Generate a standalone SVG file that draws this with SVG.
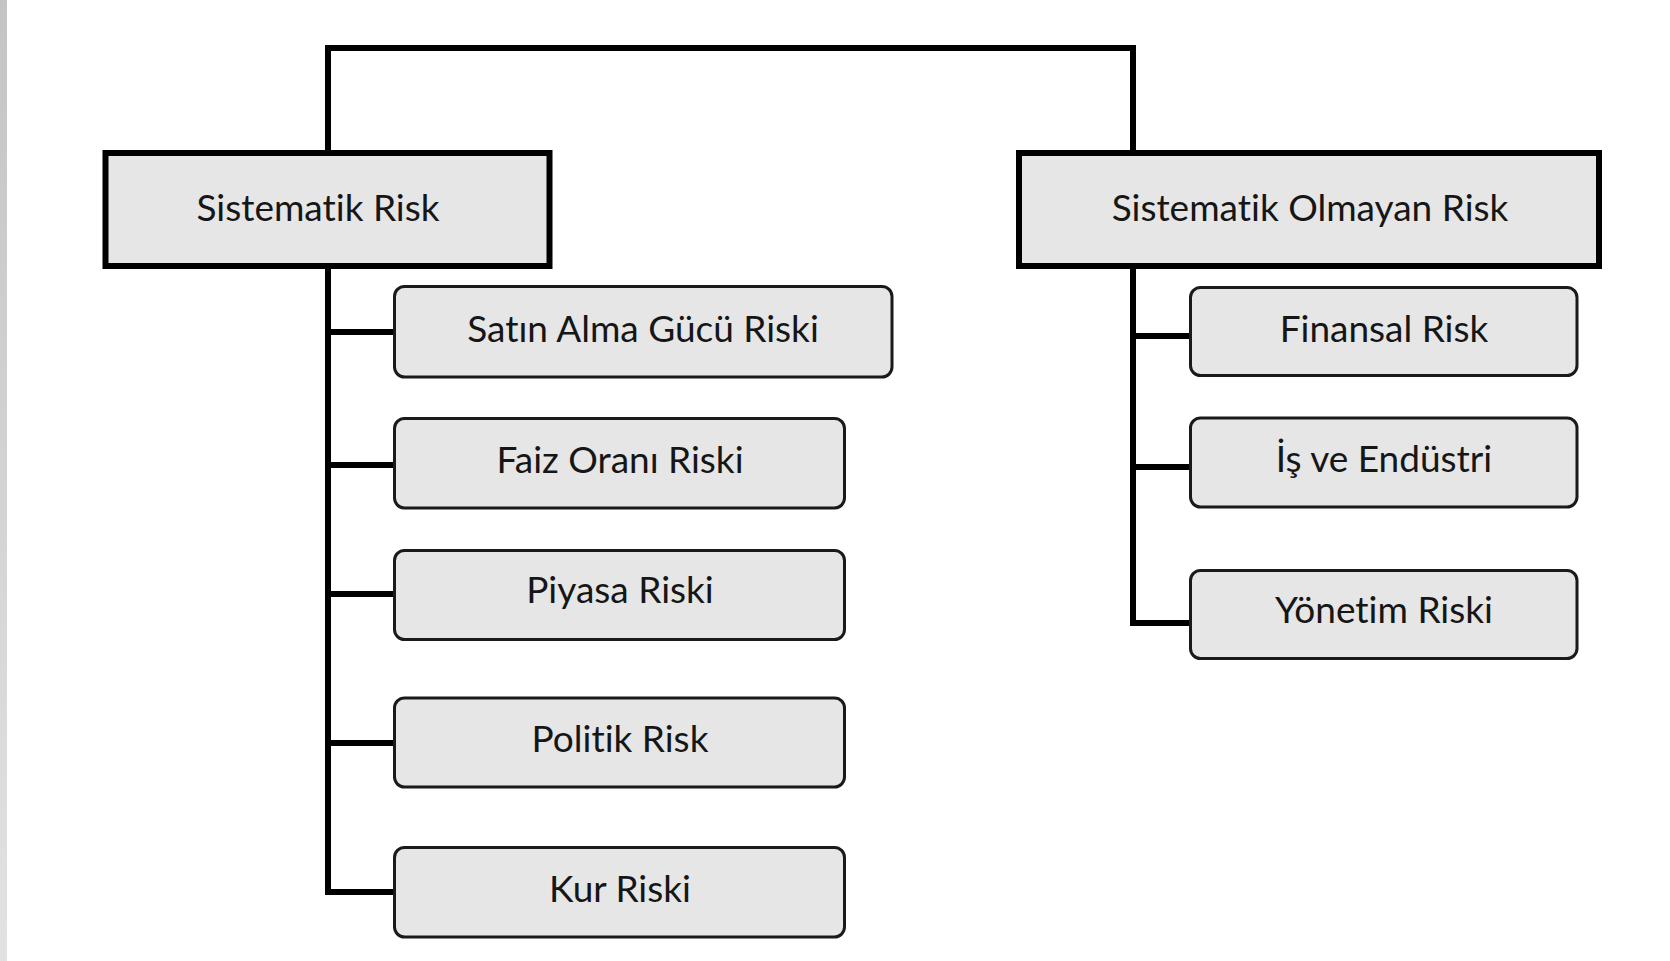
<svg xmlns="http://www.w3.org/2000/svg" width="1670" height="961" viewBox="0 0 1670 961">
  <defs>
    <linearGradient id="edge" x1="0" y1="0" x2="0" y2="1">
      <stop offset="0" stop-color="#c4c4c4"/>
      <stop offset="1" stop-color="#e2e2e2"/>
    </linearGradient>
    <style>
      .parent { fill: #e6e6e6; stroke: #000; stroke-width: 6; }
      .child { fill: #e6e6e6; stroke: #1a1a1a; stroke-width: 3; }
      .conn { fill: none; stroke: #000; stroke-width: 6; stroke-linejoin: miter; stroke-linecap: butt; }
      .lbl { font-family: Lato, "Liberation Sans", sans-serif; font-size: 37px; fill: #161616; text-anchor: middle; font-variant-ligatures: none; font-feature-settings: "liga" 0, "clig" 0; }
    </style>
  </defs>
  <rect x="0" y="0" width="1670" height="961" fill="#ffffff"/>
  <rect x="0" y="0" width="7" height="961" fill="url(#edge)"/>

  <g id="connectors">
    <path class="conn" d="M328,153 V48 H1133 V153"/>
    <path class="conn" d="M328,268 V892 H393"/>
    <path class="conn" d="M328,332 H393"/>
    <path class="conn" d="M328,465 H393"/>
    <path class="conn" d="M328,594 H393"/>
    <path class="conn" d="M328,743 H393"/>
    <path class="conn" d="M1133,268 V623 H1189"/>
    <path class="conn" d="M1133,336 H1189"/>
    <path class="conn" d="M1133,467 H1189"/>
  </g>

  <g id="sistematik-risk">
    <rect class="parent" x="105.5" y="153" width="444" height="113"/>
    <text class="lbl" x="318" y="221">Sistematik Risk</text>
  </g>
  <g id="sistematik-olmayan-risk">
    <rect class="parent" x="1019" y="153" width="580" height="113"/>
    <text class="lbl" x="1310" y="221">Sistematik Olmayan Risk</text>
  </g>

  <g id="satin-alma">
    <rect class="child" x="394.5" y="286.5" width="497.5" height="90.5" rx="10"/>
    <text class="lbl" x="643" y="342">Satın Alma Gücü Riski</text>
  </g>
  <g id="faiz-orani">
    <rect class="child" x="394.5" y="418.5" width="450" height="89.5" rx="10"/>
    <text class="lbl" x="620" y="473">Faiz Oranı Riski</text>
  </g>
  <g id="piyasa">
    <rect class="child" x="394.5" y="550.5" width="450" height="89" rx="10"/>
    <text class="lbl" x="620" y="603">Piyasa Riski</text>
  </g>
  <g id="politik">
    <rect class="child" x="394.5" y="698" width="450" height="89" rx="10"/>
    <text class="lbl" x="620" y="752">Politik Risk</text>
  </g>
  <g id="kur">
    <rect class="child" x="394.5" y="847.5" width="450" height="89.5" rx="10"/>
    <text class="lbl" x="620" y="902">Kur Riski</text>
  </g>

  <g id="finansal">
    <rect class="child" x="1190.5" y="287.5" width="386.5" height="88" rx="10"/>
    <text class="lbl" x="1384" y="342">Finansal Risk</text>
  </g>
  <g id="is-ve-endustri">
    <rect class="child" x="1190.5" y="418" width="386.5" height="89" rx="10"/>
    <text class="lbl" x="1384" y="472">İş ve Endüstri</text>
  </g>
  <g id="yonetim">
    <rect class="child" x="1190.5" y="570.5" width="386.5" height="88" rx="10"/>
    <text class="lbl" x="1384" y="623">Yönetim Riski</text>
  </g>
</svg>
